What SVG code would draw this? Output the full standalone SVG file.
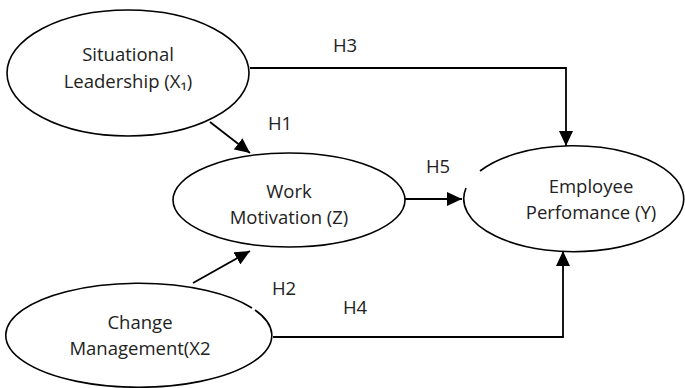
<svg xmlns="http://www.w3.org/2000/svg" width="685" height="388" viewBox="0 0 685 388">
<style>
.n{fill:#fff;stroke:#000;stroke-width:1.6}
.t{font-family:"Open Sans","Liberation Sans",sans-serif;font-size:18.5px;fill:#222;text-anchor:middle}
.c{fill:none;stroke:#000;stroke-width:1.8}
</style>
<defs>
<marker id="ah" markerUnits="userSpaceOnUse" markerWidth="16" markerHeight="14" refX="15" refY="7" orient="auto">
<path d="M0,0 L15,7 L0,14 Z" fill="#000"/>
</marker>
</defs>
<rect width="685" height="388" fill="#fff"/>
<g id="sl">
<ellipse class="n" cx="128" cy="73" rx="121" ry="63"/>
<text class="t" x="128" y="61">Situational</text>
<text class="t" x="128" y="88">Leadership (X₁)</text>
</g>
<g id="wm">
<ellipse class="n" cx="289" cy="200" rx="116" ry="47"/>
<text class="t" x="289" y="198">Work</text>
<text class="t" x="289" y="224">Motivation (Z)</text>
</g>
<g id="ep">
<path class="n" d="M480,171 A110,53 0 1 1 466,188"/>
<text class="t" x="591" y="193">Employee</text>
<text class="t" x="591" y="219">Perfomance (Y)</text>
</g>
<g id="cm">
<path class="n" d="M255,310 A133,52 0 1 1 252,308"/>
<text class="t" x="140" y="329">Change</text>
<text class="t" x="140" y="355">Management(X2</text>
</g>
<g id="connectors">
<path class="c" d="M210,122 L250,153" marker-end="url(#ah)"/>
<path class="c" d="M193,283 L250,251" marker-end="url(#ah)"/>
<path class="c" d="M250,68 L566,68 L566,146" marker-end="url(#ah)"/>
<path class="c" d="M405,199 L462,199" marker-end="url(#ah)"/>
<path class="c" d="M273,337 L563,337 L563,251" marker-end="url(#ah)"/>
<text class="t" x="345" y="52">H3</text>
<text class="t" x="280" y="130">H1</text>
<text class="t" x="438" y="173">H5</text>
<text class="t" x="284" y="295">H2</text>
<text class="t" x="355" y="314">H4</text>
</g>
</svg>
